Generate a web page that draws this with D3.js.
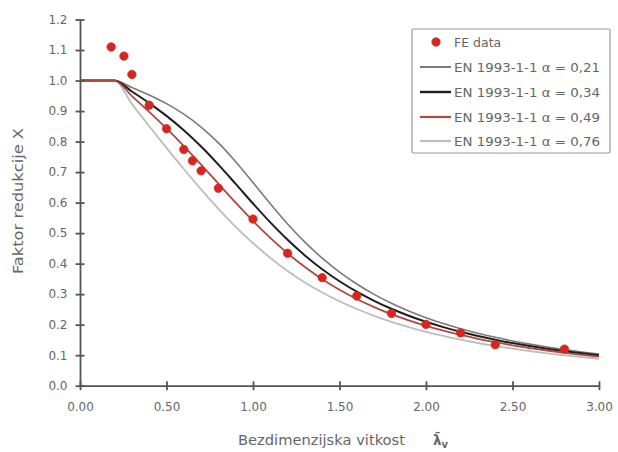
<!DOCTYPE html>
<html><head><meta charset="utf-8">
<script src="https://cdn.jsdelivr.net/npm/d3@7"></script>
<style>body{margin:0;background:#fff}svg{display:block}text{font-family:"DejaVu Sans",sans-serif;fill:#666}</style>
</head><body><svg id="c" width="618" height="452"></svg>
<script>
const lambda = [0,0.2,0.3,0.4,0.5,0.6,0.7,0.8,0.9,1.0,1.1,1.2,1.3,1.4,1.5,1.6,1.7,1.8,1.9,2.0,2.1,2.2,2.3,2.4,2.5,2.6,2.7,2.8,2.9,3.0];
const chi021 = [1,1,0.9775,0.9528,0.9243,0.8900,0.8477,0.7957,0.7339,0.6656,0.5960,0.5300,0.4703,0.4179,0.3724,0.3332,0.2994,0.2702,0.2449,0.2229,0.2036,0.1867,0.1717,0.1585,0.1467,0.1362,0.1267,0.1182,0.1105,0.1036];
const chi034 = [1,1,0.9641,0.9261,0.8842,0.8371,0.7837,0.7245,0.6612,0.5970,0.5352,0.4781,0.4269,0.3817,0.3422,0.3079,0.2781,0.2521,0.2294,0.2095,0.1920,0.1765,0.1628,0.1506,0.1397,0.1299,0.1211,0.1132,0.1060,0.0994];
const chi049 = [1,1,0.9491,0.8973,0.8430,0.7854,0.7247,0.6622,0.5998,0.5399,0.4842,0.4338,0.3888,0.3492,0.3145,0.2842,0.2577,0.2345,0.2141,0.1962,0.1803,0.1662,0.1537,0.1425,0.1325,0.1234,0.1153,0.1079,0.1012,0.0951];
const chi076 = [1,1,0.9235,0.8504,0.7793,0.7100,0.6431,0.5797,0.5208,0.4671,0.4189,0.3762,0.3385,0.3055,0.2766,0.2512,0.2289,0.2093,0.1920,0.1766,0.1630,0.1508,0.1399,0.1302,0.1214,0.1134,0.1062,0.0997,0.0937,0.0882];
const feX = [0.18,0.254,0.30,0.40,0.50,0.60,0.65,0.70,0.80,1.00,1.20,1.40,1.60,1.80,2.00,2.20,2.40,2.80];
const feY = [1.11,1.08,1.02,0.919,0.842,0.774,0.737,0.704,0.647,0.546,0.434,0.354,0.294,0.237,0.201,0.173,0.134,0.120];
const xTicks = [0,0.5,1,1.5,2,2.5,3];
const yTicks = [0,0.1,0.2,0.3,0.4,0.5,0.6,0.7,0.8,0.9,1.0,1.1,1.2];
const seriesNames = ["EN 1993-1-1 α = 0,21","EN 1993-1-1 α = 0,34","EN 1993-1-1 α = 0,49","EN 1993-1-1 α = 0,76"];

const svg = d3.select("#c");
const x = d3.scaleLinear().domain([0,3]).range([80,599]);
const y = d3.scaleLinear().domain([0,1.2]).range([385.7,19.5]);
const axc = "#555555";

const series = [
  {v:chi021, color:"#7a7a7a", w:1.6},
  {v:chi034, color:"#1e1e1e", w:2},
  {v:chi049, color:"#b2473d", w:1.8},
  {v:chi076, color:"#bdbdbd", w:1.8}
];
const line = d3.line().x(d=>x(d[0])).y(d=>y(d[1])).curve(d3.curveMonotoneX);
[3,0,1,2].forEach(i=>{
  const s = series[i];
  svg.append("path").attr("d", line(lambda.map((l,k)=>[l,s.v[k]])))
    .attr("fill","none").attr("stroke",s.color).attr("stroke-width",s.w);
});

// axes
const ax = svg.append("g").attr("transform","translate(0,385.7)")
  .call(d3.axisBottom(x).tickValues(xTicks).tickFormat(d3.format(".2f")).tickSizeInner(4.5).tickSizeOuter(0).tickPadding(12));
const ay = svg.append("g").attr("transform","translate(80,0)")
  .call(d3.axisLeft(y).tickValues(yTicks).tickFormat(d3.format(".1f")).tickSizeInner(4.5).tickSizeOuter(0).tickPadding(8));
[ax,ay].forEach(g=>{
  g.select(".domain").attr("stroke",axc).attr("stroke-width",1.8);
  g.selectAll(".tick line").attr("stroke",axc).attr("stroke-width",1.8);
  g.selectAll(".tick text").attr("fill","#666").style("font-size","12px").style("font-family","'DejaVu Sans',sans-serif");
});
ax.selectAll(".tick line").attr("y1",-4.5).attr("y2",4.5);
ay.selectAll(".tick line").attr("x1",4.5).attr("x2",-4.5);

// FE data
svg.append("g").selectAll("circle").data(feX.map((v,i)=>[v,feY[i]])).join("circle")
  .attr("cx",d=>x(d[0])).attr("cy",d=>y(d[1])).attr("r",4.2)
  .attr("fill","#e3211b").attr("stroke","#a83a30").attr("stroke-width",0.8);

// titles
svg.append("text").attr("transform","translate(23,201) rotate(-90)").attr("text-anchor","middle")
  .attr("textLength",146).attr("lengthAdjust","spacingAndGlyphs")
  .style("font-size","13.5px").text("Faktor redukcije X");
svg.append("text").attr("x",238).attr("y",445).attr("textLength",167).attr("lengthAdjust","spacingAndGlyphs")
  .style("font-size","13.5px").text("Bezdimenzijska vitkost");
const lt = svg.append("text").attr("x",433).attr("y",445).style("font-size","13.5px").style("font-weight","bold");
lt.append("tspan").text("λ\u0304");
lt.append("tspan").attr("dy",3).style("font-size","10px").text("v");

// legend
const lg = svg.append("g");
lg.append("rect").attr("x",412).attr("y",29).attr("width",198).attr("height",124)
  .attr("fill","#fff").attr("stroke","#999").attr("stroke-width",1.2).attr("rx",1.5);
const rowY = [42,67,92,117,141];
lg.append("circle").attr("cx",436).attr("cy",rowY[0]).attr("r",4.2).attr("fill","#e3211b").attr("stroke","#a83a30").attr("stroke-width",0.8);
lg.append("text").attr("x",454).attr("y",rowY[0]+4.5).style("font-size","12.5px").text("FE data");
series.forEach((s,i)=>{
  const yy = rowY[i+1];
  lg.append("line").attr("x1",420).attr("x2",451).attr("y1",yy).attr("y2",yy).attr("stroke",s.color).attr("stroke-width",s.w+0.4);
  lg.append("text").attr("x",454).attr("y",yy+4.5).style("font-size","12.5px").attr("textLength",146).attr("lengthAdjust","spacingAndGlyphs").text(seriesNames[i]);
});
</script></body></html>
